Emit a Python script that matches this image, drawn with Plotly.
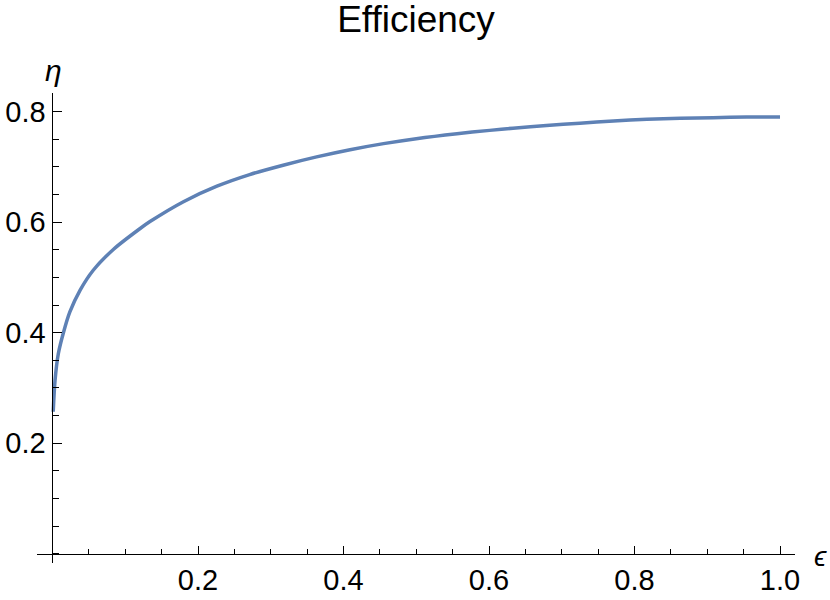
import plotly.graph_objects as go

# efficiency curve
eps = [0.001, 0.0035, 0.008, 0.015, 0.024, 0.038, 0.056, 0.084, 0.120, 0.134,
       0.180, 0.226, 0.271, 0.317, 0.363, 0.409, 0.455, 0.500, 0.556, 0.601,
       0.633, 0.679, 0.725, 0.771, 0.817, 0.863, 0.908, 0.954, 1.0]
eta = [0.257, 0.314, 0.362, 0.400, 0.438, 0.477, 0.513, 0.551, 0.588, 0.601,
       0.637, 0.665, 0.686, 0.703, 0.718, 0.731, 0.742, 0.751, 0.760, 0.766,
       0.770, 0.775, 0.779, 0.783, 0.786, 0.788, 0.789, 0.790, 0.790]

x_ticks = [0.2, 0.4, 0.6, 0.8, 1.0]
y_ticks = [0.2, 0.4, 0.6, 0.8]

x_range = [-0.0213, 1.0206]
y_range = [-0.0166, 0.8336]

font = "Liberation Sans, Arial, sans-serif"

fig = go.Figure()
fig.add_trace(go.Scatter(x=eps, y=eta, mode="lines",
                         line=dict(color="#5E81B5", width=3.5, shape="spline", smoothing=0.8)))

fig.update_layout(
    width=830,
    height=600,
    margin=dict(l=37, r=35, t=93, b=37),
    plot_bgcolor="white",
    paper_bgcolor="white",
    showlegend=False,
    font=dict(family=font, color="black"),
    title=dict(text="Efficiency", x=416 / 830, xanchor="center", yref="container",
               y=1 - 19 / 600, yanchor="middle", font=dict(size=37, color="black")),
    xaxis=dict(
        range=x_range,
        anchor="free",
        position=(0 - y_range[0]) / (y_range[1] - y_range[0]),
        automargin=False,
        showline=True, linecolor="black", linewidth=1,
        showgrid=False, zeroline=False,
        tickmode="array", tickvals=x_ticks, ticktext=["0.2", "0.4", "0.6", "0.8", "1.0"],
        ticks="inside", ticklen=8, tickwidth=1, tickcolor="black",
        tickfont=dict(size=29, color="black"),
        minor=dict(ticks="inside", ticklen=5, tickwidth=1, tickcolor="black", dtick=0.05, tick0=0),
    ),
    yaxis=dict(
        range=y_range,
        anchor="free",
        position=(0 - x_range[0]) / (x_range[1] - x_range[0]),
        automargin=False,
        showline=True, linecolor="black", linewidth=1,
        showgrid=False, zeroline=False,
        tickmode="array", tickvals=y_ticks, ticktext=["0.2", "0.4", "0.6", "0.8"],
        ticks="inside", ticklen=9, tickwidth=1, tickcolor="black",
        tickfont=dict(size=29, color="black"),
        ticklabelstandoff=1,
        minor=dict(ticks="inside", ticklen=6, tickwidth=1, tickcolor="black", dtick=0.05, tick0=0),
    ),
)

fig.add_annotation(text="<i>η</i>", xref="paper", yref="paper", x=(53 - 37) / 758, y=(563 - 70) / 470,
                   showarrow=False, font=dict(size=30, color="black"), xanchor="center", yanchor="middle")
fig.add_annotation(text="<i>ϵ</i>", xref="paper", yref="paper", x=(812 - 37) / 758, y=(563 - 556) / 470,
                   showarrow=False, font=dict(size=28, color="black"), xanchor="left", yanchor="middle")

# drop the default 8px page margin so the figure sits at the window's corner
fig.write_html("out.html", config={"displayModeBar": False},
               post_script="document.body.style.margin = '0px';")
